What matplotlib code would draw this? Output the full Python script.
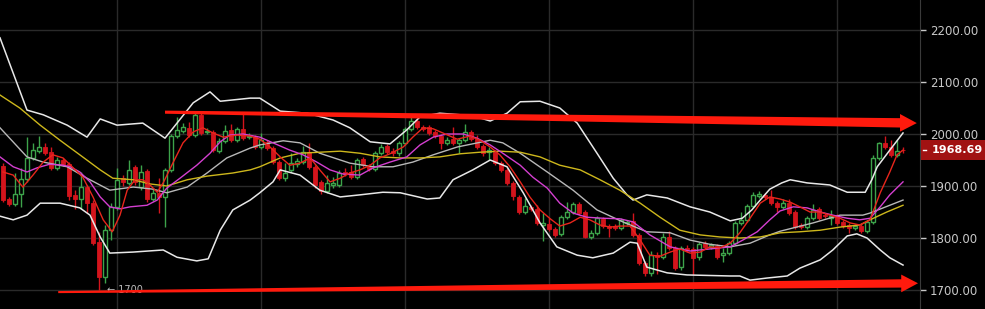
import matplotlib
matplotlib.use("Agg")
import matplotlib.pyplot as plt
import matplotlib.transforms as mtransforms
import numpy as np
from matplotlib.patches import Polygon, Rectangle

# --- candles (one per session, left to right) ---
opens = [1938, 1875, 1865, 1885, 1913, 1954, 1967, 1975, 1965, 1935,
         1950, 1942, 1883, 1875, 1898, 1867, 1792, 1725, 1815, 1860,
         1915, 1906, 1937, 1898, 1929, 1875, 1887, 1879, 1931, 1996,
         2006, 2012, 1998, 2037, 2004, 2004, 1967, 1987, 2008, 1988,
         2010, 1994, 1994, 1975, 1985, 1973, 1946, 1915, 1931, 1942,
         1946, 1965, 1937, 1908, 1890, 1902, 1902, 1927, 1927, 1917,
         1952, 1938, 1933, 1963, 1977, 1967, 1963, 1983, 2010, 2025,
         2013, 2013, 2004, 1996, 1983, 1990, 1983, 1988, 2004, 1990,
         1977, 1965, 1965, 1944, 1931, 1906, 1879, 1850, 1860, 1856,
         1825, 1827, 1817, 1808, 1840, 1850, 1865, 1850, 1802, 1810,
         1837, 1823, 1823, 1819, 1829, 1833, 1806, 1752, 1733, 1767,
         1763, 1802, 1781, 1744, 1781, 1779, 1763, 1790, 1783, 1785,
         1767, 1771, 1790, 1829, 1835, 1862, 1881, 1883, 1879, 1867,
         1860, 1867, 1850, 1825, 1821, 1838, 1856, 1844, 1838, 1842,
         1831, 1825, 1819, 1823, 1813, 1831, 1954, 1983, 1975, 1960,
         1969]
closes = [1873, 1865, 1885, 1913, 1954, 1969, 1975, 1963, 1935, 1950,
          1942, 1881, 1875, 1898, 1867, 1790, 1725, 1815, 1860, 1912,
          1908, 1931, 1908, 1927, 1875, 1887, 1879, 1931, 1996, 2008,
          2013, 1998, 2037, 2002, 2006, 1969, 1987, 2006, 1988, 2010,
          1992, 1996, 1975, 1988, 1973, 1946, 1915, 1925, 1944, 1948,
          1965, 1937, 1902, 1890, 1906, 1906, 1925, 1923, 1917, 1950,
          1940, 1933, 1963, 1975, 1965, 1963, 1983, 2010, 2025, 2013,
          2010, 2002, 1996, 1983, 1988, 1983, 1988, 2004, 1990, 1975,
          1963, 1969, 1944, 1931, 1906, 1881, 1850, 1862, 1856, 1829,
          1829, 1817, 1806, 1840, 1850, 1865, 1848, 1802, 1810, 1838,
          1823, 1819, 1819, 1835, 1831, 1806, 1752, 1733, 1767, 1763,
          1802, 1781, 1742, 1781, 1777, 1762, 1788, 1783, 1787, 1763,
          1771, 1790, 1829, 1835, 1862, 1883, 1885, 1879, 1867, 1860,
          1867, 1848, 1821, 1821, 1838, 1854, 1838, 1842, 1842, 1829,
          1823, 1819, 1823, 1813, 1831, 1954, 1983, 1975, 1960, 1967,
          1968.69]
highs = [1944, 1879, 1925, 1935, 1994, 1983, 1996, 1983, 1975, 1956,
         1954, 1946, 1892, 1927, 1902, 1873, 1812, 1825, 1867, 1935,
         1921, 1950, 1940, 1940, 1933, 1896, 1915, 1935, 2000, 2033,
         2021, 2023, 2040, 2040, 2012, 2008, 1992, 2017, 2019, 2013,
         2040, 2002, 1998, 2002, 1988, 1977, 1950, 1944, 1963, 1954,
         1977, 1983, 1940, 1912, 1921, 1917, 1931, 1935, 1940, 1954,
         1956, 1942, 1967, 1981, 1981, 1973, 1987, 2013, 2033, 2029,
         2017, 2017, 2008, 2000, 1994, 2013, 1992, 2019, 2008, 1998,
         1981, 1975, 1969, 1948, 1935, 1910, 1883, 1877, 1863, 1863,
         1848, 1838, 1821, 1844, 1869, 1869, 1869, 1854, 1815, 1842,
         1840, 1827, 1827, 1838, 1835, 1848, 1810, 1756, 1775, 1773,
         1810, 1813, 1785, 1785, 1787, 1783, 1792, 1794, 1790, 1788,
         1781, 1794, 1833, 1850, 1865, 1888, 1890, 1887, 1892, 1871,
         1875, 1875, 1854, 1829, 1842, 1865, 1860, 1848, 1854, 1846,
         1835, 1829, 1827, 1827, 1835, 1960, 1985, 1996, 1988, 1988,
         1975]
lows = [1869, 1862, 1862, 1860, 1908, 1950, 1963, 1960, 1931, 1931,
        1938, 1873, 1856, 1856, 1848, 1787, 1700, 1713, 1796, 1854,
        1900, 1902, 1902, 1892, 1869, 1871, 1848, 1821, 1927, 1992,
        2002, 1994, 1994, 1998, 2000, 1965, 1963, 1983, 1985, 1985,
        1988, 1990, 1971, 1971, 1969, 1942, 1912, 1910, 1927, 1937,
        1942, 1933, 1896, 1885, 1887, 1896, 1898, 1919, 1913, 1913,
        1937, 1929, 1929, 1960, 1962, 1958, 1958, 1979, 2006, 2010,
        2006, 1998, 1992, 1971, 1979, 1979, 1963, 1985, 1987, 1971,
        1958, 1950, 1940, 1927, 1902, 1873, 1846, 1846, 1852, 1825,
        1794, 1813, 1802, 1804, 1837, 1846, 1844, 1800, 1798, 1806,
        1819, 1802, 1815, 1815, 1825, 1802, 1748, 1727, 1727, 1731,
        1760, 1777, 1738, 1738, 1773, 1729, 1758, 1779, 1779, 1760,
        1754, 1767, 1787, 1825, 1831, 1858, 1877, 1875, 1863, 1850,
        1856, 1844, 1817, 1817, 1817, 1835, 1835, 1838, 1825, 1825,
        1819, 1810, 1815, 1810, 1810, 1827, 1950, 1971, 1956, 1956,
        1963]

# --- indicator lines, read at candle positions ---
bb_up_x = [-0.5, 4, 6.7, 10.7, 14, 16.2, 19, 23.3, 27, 31.7, 34.5, 36.2, 41.2, 42.8,
           46.2, 50.7, 55, 57.8, 61.2, 64.5, 67.3, 69.5, 72.8, 76.2, 79.5, 81.2, 84,
           86.2, 89.5, 92.8, 95.7, 99, 101.7, 104, 105, 107.3, 110.7, 114.5, 117.8,
           121.2, 123.2, 124.8, 126.2, 127.8, 129.8, 131.2, 134, 137.8, 140.7, 143.7,
           144.8, 145.7, 147.8, 150]
bb_up = [2185, 2046, 2037, 2017, 1994, 2029, 2017, 2021, 1992, 2060, 2081, 2063, 2069, 2069,
         2044, 2040, 2027, 2012, 1985, 1981, 2008, 2033, 2040, 2037, 2031, 2025, 2040,
         2062, 2063, 2050, 2021, 1963, 1915, 1883, 1873, 1883, 1877, 1860, 1850,
         1833, 1838, 1854, 1873, 1894, 1906, 1912, 1906, 1902, 1888, 1888,
         1912, 1937, 1969, 2002]

bb_mid_x = [-0.5, 4, 6.7, 10.7, 14, 17.8, 21.7, 25, 27.3, 30.7, 34, 37.3, 41.2, 42.8,
            46.7, 49.5, 52.8, 57.8, 61.7, 65, 68.3, 71.7, 75.7, 81.2, 83.3, 86.2, 90.7,
            95, 99, 103.3, 107.3, 111.2, 114.5, 117.8, 121.2, 124.5, 127.8, 129.5, 135,
            139.5, 143.3, 144.5, 150]
bb_mid = [2012, 1956, 1946, 1937, 1915, 1892, 1898, 1894, 1887, 1898, 1925, 1954, 1973, 1979,
          1987, 1983, 1963, 1944, 1937, 1937, 1946, 1960, 1975, 1988, 1983, 1963, 1927,
          1892, 1854, 1831, 1812, 1810, 1796, 1788, 1783, 1790, 1806, 1813, 1829,
          1844, 1844, 1848, 1873]

bb_low_x = [-0.5, 1.7, 4, 6.2, 9.5, 12.8, 14.5, 16.2, 17.8, 21.7, 26.7, 29, 32.3, 34.2,
            36.2, 38.3, 41.2, 42.8, 45, 46.2, 49.5, 52.8, 56.2, 59.5, 63.3, 66.2, 70.7,
            72.8, 75, 78.3, 81.2, 84, 86.7, 89.5, 92.3, 95.7, 98.3, 101.7, 104.5, 105.7,
            107.3, 110.7, 114, 121.2, 122.8, 124.5, 127.3, 130.7, 132.8, 136.2, 138.3,
            140.7, 142.3, 144, 146.2, 147.8, 150]
bb_low = [1842, 1835, 1844, 1867, 1867, 1858, 1844, 1802, 1771, 1773, 1777, 1763, 1756, 1760,
          1815, 1854, 1873, 1887, 1908, 1931, 1921, 1892, 1879, 1883, 1888, 1887, 1875,
          1877, 1912, 1931, 1950, 1937, 1887, 1829, 1783, 1767, 1762, 1771, 1792, 1790,
          1744, 1733, 1729, 1727, 1727, 1719, 1723, 1727, 1742, 1758, 1777,
          1804, 1808, 1800, 1777, 1762, 1748]

ma_red_x = [0, 1.7, 3.3, 5, 6.7, 8.3, 10, 11.7, 13.3, 15, 16.7, 18.2, 19.5, 20.7, 22,
            23.3, 24.5, 25.7, 26.7, 28.3, 30, 31.7, 33.3, 35, 36.7, 39, 41.2, 42.8, 44.5,
            46.2, 47.8, 49.5, 51.2, 52.8, 54.5, 56.2, 57.8, 59.5, 61.2, 62.8, 64.5, 66.7,
            68.3, 70, 71.7, 73.3, 75.7, 77.8, 79.5, 81.2, 82.8, 84.5, 86.2, 87.8, 89.5,
            91.2, 92.8, 94.5, 96.2, 97.8, 99.5, 101.2, 102.8, 104.5, 106.2, 107.8, 109.5,
            111.2, 112.8, 114.5, 116.2, 117.8, 119.5, 121.2, 122.8, 124.5, 126.2, 127.8,
            129.5, 131.2, 132.8, 134.5, 136.2, 137.8, 139.5, 141.2, 142.8, 144.5, 146.2,
            147.8, 149, 150]
ma_red = [1927, 1921, 1898, 1921, 1946, 1960, 1954, 1935, 1917, 1879, 1835, 1812, 1844, 1892, 1912,
          1912, 1902, 1888, 1906, 1944, 1983, 2004, 2012, 2002, 1994, 1998, 1996, 1990, 1975,
          1956, 1940, 1944, 1954, 1931, 1908, 1915, 1925, 1931, 1940, 1954, 1962, 1975,
          1994, 2012, 2010, 2002, 1990, 1996, 1988, 1975, 1960, 1937, 1908, 1879, 1854,
          1837, 1823, 1829, 1840, 1835, 1825, 1821, 1823, 1823, 1796, 1767, 1765,
          1773, 1779, 1771, 1773, 1783, 1781, 1790, 1810, 1838, 1867, 1879,
          1875, 1869, 1860, 1850, 1850, 1844, 1838, 1829, 1825, 1835, 1887,
          1927, 1960, 1969]

ma_mag_x = [-0.5, 1.7, 4, 5.7, 7.8, 10, 11.2, 12.8, 14.5, 16.2, 17.8, 19.5, 21.2, 24, 25.7,
            27.3, 29.5, 32.3, 34.5, 36.2, 37.8, 40, 42.8, 45, 47.8, 50, 52.3, 54.5, 56.7,
            59.5, 61.7, 64.5, 67.3, 69.5, 71.7, 74, 76.7, 79, 81.2, 83.3, 86.2, 88.3, 90.7,
            92.8, 95, 97.3, 100, 102.8, 105, 107.8, 111.2, 114.5, 117.8, 121.2, 123.3,
            125.7, 127.8, 129.5, 131.7, 134, 136.2, 138.3, 140.7, 142.8, 144.5, 146.2,
            147.8, 150]
ma_mag = [1956, 1937, 1927, 1935, 1942, 1940, 1937, 1927, 1908, 1879, 1860, 1856, 1860, 1863, 1873,
          1896, 1915, 1940, 1963, 1985, 1998, 2000, 1994, 1983, 1969, 1960, 1946, 1931, 1923,
          1921, 1935, 1946, 1956, 1979, 1994, 2000, 2000, 1992, 1979, 1963, 1940, 1917, 1896,
          1867, 1848, 1840, 1838, 1837, 1831, 1806, 1783, 1775, 1779, 1783, 1796,
          1812, 1835, 1852, 1860, 1858, 1850, 1844, 1838, 1835, 1838, 1860,
          1883, 1908]

ma_yel_x = [-0.5, 2.8, 6.2, 9.5, 12.8, 16.2, 18.3, 21.7, 24.5, 27.3, 30.7, 34, 38.3, 41.2,
            42.8, 46.2, 49.5, 52.8, 56.2, 59.5, 62.8, 66.2, 69.5, 72.8, 76.2, 79.5, 82.8,
            86.2, 89.5, 92.8, 96.2, 99.5, 102.8, 106.2, 109.5, 112.8, 116.2, 119.5, 122.8,
            126.2, 129.5, 132.8, 136.2, 139.5, 142.8, 144.5, 147.3, 150]
ma_yel = [2075, 2050, 2017, 1988, 1960, 1931, 1915, 1912, 1904, 1900, 1912, 1919, 1925, 1931,
          1937, 1954, 1963, 1965, 1967, 1963, 1956, 1954, 1954, 1956, 1962, 1965, 1967,
          1965, 1956, 1940, 1931, 1912, 1892, 1867, 1840, 1815, 1806, 1802, 1800,
          1802, 1810, 1812, 1815, 1821, 1825, 1835, 1850, 1863]

price_ticks = [1700, 1800, 1900, 2000, 2100, 2200]
grid_cols = [19, 43, 67, 91, 115, 139]
last_price = 1968.69

GREEN = "#3da34a"
RED = "#d3141c"
ARROW = "#ff1a0d"

fig = plt.figure(figsize=(9.85, 3.09), dpi=100, facecolor="black")
ax = fig.add_axes([0, 0, 920 / 985, 1])
ax.set_facecolor("black")
ax.set_xlim(-0.5, 152.83)
ax.set_ylim(1663.5, 2257.7)

for p in price_ticks:
    ax.axhline(p, color="#2a2a2a", lw=1, zorder=0)
for c in grid_cols:
    ax.axvline(c, color="#2a2a2a", lw=1, zorder=0)

o = np.array(opens, dtype=float)
c = np.array(closes, dtype=float)
h = np.array(highs, dtype=float)
l = np.array(lows, dtype=float)
idx = np.arange(len(o))
up = c >= o
ax.vlines(idx, l, h, colors=np.where(up, GREEN, RED), lw=1, zorder=2)
bot = np.minimum(o, c)
hgt = np.maximum(np.abs(c - o), 1.5)
ax.bar(idx[up], hgt[up], bottom=bot[up], width=0.78, facecolor="black",
       edgecolor=GREEN, lw=1, zorder=3)
ax.bar(idx[~up], hgt[~up], bottom=bot[~up], width=0.78, facecolor=RED,
       edgecolor=RED, lw=0.6, zorder=3)

ax.plot(bb_up_x, bb_up, color="#e8e8e8", lw=1.1, zorder=4)
ax.plot(bb_low_x, bb_low, color="#e8e8e8", lw=1.1, zorder=4)
ax.plot(bb_mid_x, bb_mid, color="#b8b8b8", lw=1.0, zorder=4)
ax.plot(ma_yel_x, ma_yel, color="#cdb71c", lw=1.0, zorder=4)
ax.plot(ma_mag_x, ma_mag, color="#d43fd0", lw=1.0, zorder=4)
ax.plot(ma_red_x, ma_red, color="#e8261c", lw=1.0, zorder=4)


def trend_arrow(x0, y0, x1, y1, w0, w1, head_w, head_len):
    xb = x1 - head_len
    yb = y0 + (y1 - y0) * (xb - x0) / (x1 - x0)
    pts = [(x0, y0 + w0), (xb, yb + w1), (xb, yb + head_w), (x1, y1),
           (xb, yb - head_w), (xb, yb - w1), (x0, y0 - w0)]
    ax.add_patch(Polygon(pts, closed=True, fc=ARROW, ec="none", zorder=6))


trend_arrow(27, 2042, 152.3, 2021, 3.0, 9.0, 17, 2.8)
trend_arrow(9.2, 1696, 152.5, 1713, 2.0, 8.0, 17, 2.8)

ax.text(17.3, 1700, "\u2190 1700", color="#bdbdbd", fontsize=7, va="center",
        ha="left", zorder=5)

ax.set_xticks([])
ax.yaxis.tick_right()
ax.set_yticks(price_ticks)
ax.set_yticklabels([f"{p:.2f}" for p in price_ticks])
ax.tick_params(axis="y", colors="#c8c8c8", length=4, width=1, labelsize=8.5, pad=3)
for t in ax.get_yticklines():
    t.set_color("#5a5a5a")
for side in ("left", "top", "bottom"):
    ax.spines[side].set_visible(False)
ax.spines["right"].set_color("#3a3a3a")

# last price tag
trans = mtransforms.blended_transform_factory(ax.transAxes, ax.transData)
ax.add_patch(Rectangle((1.0015, last_price - 18), 65 / 920, 37, transform=trans,
                       fc="#a11212", ec="none", clip_on=False, zorder=7))
ax.text(1.0 + 37 / 920, last_price, f"{last_price:.2f}", transform=trans, color="white",
        fontsize=8, fontweight="bold", va="center", ha="center", zorder=8, clip_on=False)
ax.plot([1.003, 1.007], [last_price, last_price], transform=trans, color="white",
        lw=1, clip_on=False, zorder=8)

fig.savefig("out.png", dpi=100, facecolor="black")
